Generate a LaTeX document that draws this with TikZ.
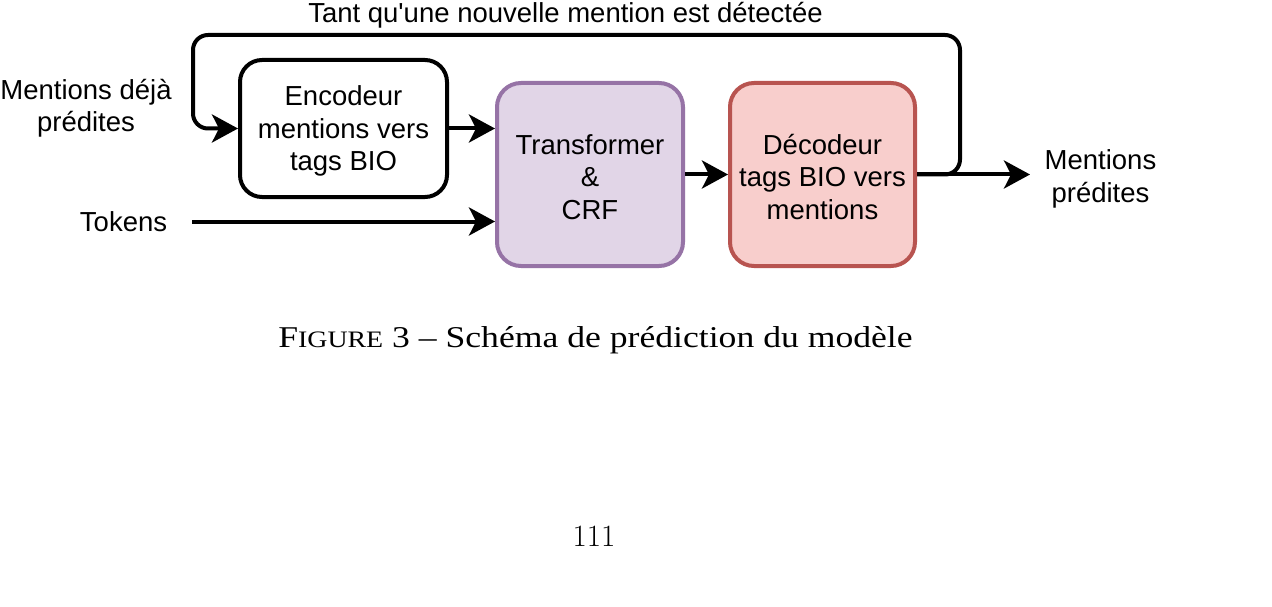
\documentclass[tikz,border=0pt]{standalone}
\usepackage{fontspec}
\usepackage{graphicx}
\newfontfamily\dsans{Liberation Sans}
\newfontfamily\capfont{Liberation Serif}
\usetikzlibrary{arrows.meta}
\definecolor{purpleFill}{HTML}{E1D5E7}
\definecolor{purpleLine}{HTML}{9673A6}
\definecolor{redFill}{HTML}{F8CECC}
\definecolor{redLine}{HTML}{B85450}
\tikzset{
  lbl/.style={font=\dsans\fontsize{27.5}{32.4}\selectfont, align=center, inner sep=0pt},
  stagebox/.style={lbl, draw, line width=4pt, rounded corners=24pt, minimum width=186pt, minimum height=183pt},
  boxtext/.style={label={[lbl, yshift=-2.5pt]center:{#1}}},
  conn/.style={line width=4pt, -{Stealth[length=26pt,width=28pt,inset=7pt]}}
}
\begin{document}
\begin{tikzpicture}[x=1pt,y=-1pt]
\useasboundingbox (0,0) rectangle (1272,607);
\fill[white] (0,0) rectangle (1272,607);

% boxes
\node[stagebox, rounded corners=22pt, minimum width=207pt, minimum height=137pt,
  boxtext={Encodeur\\mentions vers\\tags BIO}] (enc) at (343.5,128.5) {};
\node[stagebox, draw=purpleLine, fill=purpleFill,
  boxtext={Transformer\\\&\\CRF}] (trans) at (590,174.5) {};
\node[stagebox, draw=redLine, fill=redFill, minimum width=185pt,
  boxtext={Décodeur\\tags BIO vers\\mentions}] (dec) at (822.5,174.5) {};

% labels
\node[lbl, anchor=base] (loop) at (565.5,22.5) {Tant qu'une nouvelle mention est détectée};
\node[lbl] (prev) at (86,108.5) {Mentions déjà\\prédites};
\node[lbl] (tok) at (123.5,221.7) {Tokens};
\node[lbl] (out) at (1100.5,179) {Mentions\\prédites};

% helper coordinates
\coordinate (tokStart) at (192,221.5);
\coordinate (outTip) at (1030,174.5);
\coordinate (loopR) at (960,35);
\coordinate (loopL) at (193,35);

% connectors
\draw[conn] (enc.east) -- (enc.east -| trans.west);
\draw[conn] (tokStart) -- (tokStart -| trans.west);
\draw[conn] (trans.east) -- (dec.west);
\draw[conn] (dec.east) -- (outTip);
\draw[conn, rounded corners=15pt] (dec.east) -| (loopR) -- (loopL) |- (enc.west);

% caption and page number
\node[anchor=base, inner sep=0pt, font=\capfont\fontsize{30.2}{36}\selectfont] (cap) at (595.5,347.3)
  {\scalebox{1.18}[1]{F{\fontsize{23.6}{28}\selectfont IGURE} 3 – Schéma de prédiction du modèle}};
\node[anchor=base, inner sep=0pt, font=\fontsize{31}{36}\selectfont] (page) at (594,546) {111};
\end{tikzpicture}
\end{document}
